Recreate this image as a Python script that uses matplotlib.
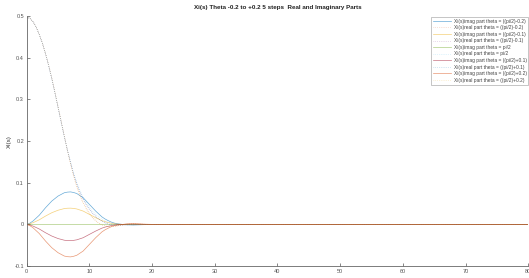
import matplotlib
matplotlib.use("Agg")
import matplotlib.pyplot as plt

plt.rcParams['font.family'] = ['Liberation Sans', 'DejaVu Sans']

# x positions (distance along ray)
x = [0, 0.5, 1, 1.5, 2, 2.5, 3, 3.5, 4, 4.5, 5, 5.5, 6, 6.5, 7, 7.5, 8, 8.5, 9, 9.5,
     10, 10.5, 11, 11.5, 12, 12.5, 13, 13.5, 14, 14.5, 15, 15.5, 16, 17, 18, 19, 20, 80]

# imag part, theta = pi/2 - 0.2
imag_m02 = [0, 0.003, 0.008, 0.015, 0.022, 0.031, 0.040, 0.048, 0.056, 0.062, 0.068, 0.072,
            0.076, 0.0775, 0.078, 0.0765, 0.074, 0.069, 0.064, 0.056, 0.048, 0.040, 0.032,
            0.025, 0.018, 0.013, 0.009, 0.0055, 0.003, 0.0015, 0.0005, -0.0003, -0.001,
            -0.0015, -0.001, -0.0005, 0, 0]
# real part, theta = pi/2 - 0.2
real_m02 = [0.497, 0.495, 0.487, 0.474, 0.456, 0.435, 0.41, 0.382, 0.351, 0.317, 0.282, 0.247,
            0.212, 0.177, 0.145, 0.116, 0.09, 0.069, 0.052, 0.038, 0.026, 0.016, 0.009, 0.003,
            -0.001, -0.004, -0.005, -0.0055, -0.005, -0.0035, -0.002, -0.0005, 0.001, 0.002,
            0.001, 0, 0, 0]
# imag part, theta = pi/2 - 0.1
imag_m01 = [0, 0.0015, 0.004, 0.0075, 0.011, 0.0155, 0.020, 0.024, 0.028, 0.031, 0.034, 0.036,
            0.038, 0.0388, 0.039, 0.0383, 0.037, 0.0345, 0.032, 0.028, 0.024, 0.020, 0.016,
            0.0125, 0.009, 0.0065, 0.0045, 0.0028, 0.0015, 0.0007, 0.0002, -0.0002, -0.0005,
            -0.0007, -0.0004, 0, 0, 0]
# real part, theta = pi/2 - 0.1
real_m01 = [0.497, 0.495, 0.487, 0.474, 0.456, 0.435, 0.41, 0.381, 0.35, 0.316, 0.281, 0.246,
            0.211, 0.178, 0.148, 0.120, 0.097, 0.077, 0.061, 0.047, 0.036, 0.027, 0.019, 0.013,
            0.008, 0.004, 0.001, -0.001, -0.002, -0.002, -0.002, -0.0015, -0.001, 0, 0, 0, 0, 0]
# imag part, theta = pi/2
imag_0 = [0, 0, 0, 0, 0, 0, 0, 0, 0, 0, 0, 0, 0, 0, 0, 0, 0, 0, 0, 0,
          0, 0, 0, 0, 0, 0, 0, 0, 0, 0, 0, 0, 0, 0, 0, 0, 0, 0]
# real part, theta = pi/2
real_0 = [0.497, 0.495, 0.487, 0.474, 0.456, 0.435, 0.41, 0.381, 0.35, 0.316, 0.281, 0.245,
          0.21, 0.178, 0.149, 0.122, 0.10, 0.081, 0.065, 0.052, 0.041, 0.032, 0.024, 0.018,
          0.013, 0.008, 0.005, 0.002, 0.0005, -0.0004, -0.0008, -0.0009, -0.001, -0.0007,
          -0.0003, 0, 0, 0]
# imag part, theta = pi/2 + 0.1
imag_p01 = [0, -0.0015, -0.004, -0.0075, -0.011, -0.0155, -0.020, -0.024, -0.028, -0.031,
            -0.034, -0.036, -0.038, -0.0388, -0.039, -0.0383, -0.037, -0.0345, -0.032, -0.028,
            -0.024, -0.020, -0.016, -0.0125, -0.009, -0.0065, -0.0045, -0.0028, -0.0015,
            -0.0007, -0.0002, 0.0002, 0.0005, 0.0007, 0.0004, 0, 0, 0]
# real part, theta = pi/2 + 0.1
real_p01 = [0.497, 0.495, 0.487, 0.474, 0.456, 0.435, 0.41, 0.381, 0.35, 0.316, 0.281, 0.246,
            0.211, 0.178, 0.148, 0.120, 0.097, 0.077, 0.061, 0.047, 0.036, 0.027, 0.019, 0.013,
            0.008, 0.004, 0.001, -0.001, -0.002, -0.002, -0.002, -0.0015, -0.001, 0, 0, 0, 0, 0]
# imag part, theta = pi/2 + 0.2
imag_p02 = [0, -0.003, -0.008, -0.015, -0.022, -0.031, -0.040, -0.048, -0.056, -0.062, -0.068,
            -0.072, -0.076, -0.0775, -0.078, -0.0765, -0.074, -0.069, -0.064, -0.056, -0.048,
            -0.040, -0.032, -0.025, -0.018, -0.013, -0.009, -0.0055, -0.003, -0.0015, -0.0005,
            0.0003, 0.001, 0.0015, 0.001, 0.0005, 0, 0]
# real part, theta = pi/2 + 0.2
real_p02 = [0.497, 0.495, 0.487, 0.474, 0.456, 0.435, 0.41, 0.382, 0.351, 0.317, 0.282, 0.247,
            0.212, 0.177, 0.145, 0.116, 0.09, 0.069, 0.052, 0.038, 0.026, 0.016, 0.009, 0.003,
            -0.001, -0.004, -0.005, -0.0055, -0.005, -0.0035, -0.002, -0.0005, 0.001, 0.002,
            0.001, 0, 0, 0]

labels = [
    "Xi(s)imag part theta = ((pi/2)-0.2)",
    "Xi(s)real part theta = ((pi/2)-0.2)",
    "Xi(s)imag part theta = ((pi/2)-0.1)",
    "Xi(s)real part theta = ((pi/2)-0.1)",
    "Xi(s)imag part theta = pi/2",
    "Xi(s)real part theta = pi/2",
    "Xi(s)imag part theta = ((pi/2)+0.1)",
    "Xi(s)real part theta = ((pi/2)+0.1)",
    "Xi(s)imag part theta = ((pi/2)+0.2)",
    "Xi(s)real part theta = ((pi/2)+0.2)",
]
series = [imag_m02, real_m02, imag_m01, real_m01, imag_0, real_0,
          imag_p01, real_p01, imag_p02, real_p02]
colors = ['#0072BD', '#D95319', '#EDB120', '#7E2F8E', '#77AC30', '#4DBEEE',
          '#A2142F', '#0072BD', '#D95319', '#EDB120']
styles = ['-', ':', '-', ':', '-', ':', '-', ':', '-', ':']
alphas = [0.6, 0.35, 0.6, 0.35, 0.6, 0.35, 0.6, 0.35, 0.6, 0.35]

fig = plt.figure(figsize=(5.29, 2.78), dpi=100)
ax = fig.add_axes([0.0505, 0.043, 0.948, 0.899])

for y, c, ls, a, lab in zip(series, colors, styles, alphas, labels):
    ax.plot(x, y, color=c, linestyle=ls, linewidth=0.5, alpha=a, label=lab)

ax.set_xlim(0, 80)
ax.set_ylim(-0.1, 0.5)
ax.set_xticks([0, 10, 20, 30, 40, 50, 60, 70, 80])
ax.set_yticks([-0.1, 0, 0.1, 0.2, 0.3, 0.4, 0.5])
ax.set_yticklabels(['-0.1', '0', '0.1', '0.2', '0.3', '0.4', '0.5'])
ax.tick_params(direction='in', length=2.5, width=0.5, labelsize=4, colors='#555555', pad=2)
for side in ['top', 'right']:
    ax.spines[side].set_visible(False)
for side in ['left', 'bottom']:
    ax.spines[side].set_linewidth(0.6)
    ax.spines[side].set_color('#666666')

ax.set_ylabel('Xi(s)', fontsize=4.5, color='#333333', labelpad=2)
ax.set_title('Xi(s) Theta -0.2 to +0.2 5 steps  Real and Imaginary Parts',
             fontsize=4.5, fontweight='bold', color='#222222', pad=5)

leg = ax.legend(loc='upper right', bbox_to_anchor=(0.999, 0.94),
                bbox_transform=fig.transFigure, fontsize=3.5, frameon=True,
                fancybox=False, handlelength=3.6, labelspacing=0.32,
                borderpad=0.4, handletextpad=0.6, borderaxespad=0)
leg.get_frame().set_linewidth(0.5)
leg.get_frame().set_edgecolor('#999999')
for t in leg.get_texts():
    t.set_color('#444444')

fig.savefig('out.png', dpi=100)
